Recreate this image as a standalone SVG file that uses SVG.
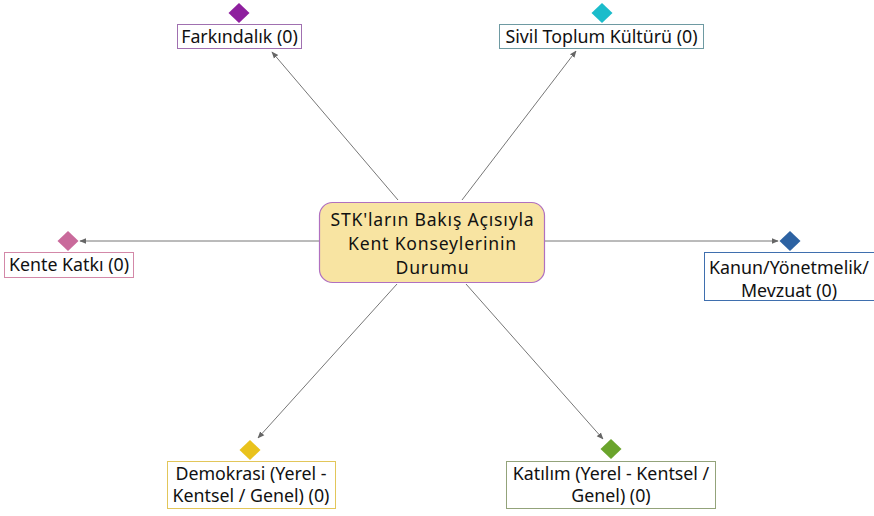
<svg xmlns="http://www.w3.org/2000/svg" width="874" height="516" viewBox="0 0 874 516">
<defs>
<marker id="arr" viewBox="0 0 10 10" refX="9" refY="5" markerWidth="7" markerHeight="7" orient="auto" markerUnits="userSpaceOnUse">
<path d="M0,1 L10,5 L0,9 z" fill="#666"/>
</marker>
</defs>
<style>
text{font-family:"Noto Sans","Open Sans","DejaVu Sans",sans-serif;fill:#111;text-anchor:middle}
.lbl{font-size:17.8px}
.main{font-size:17.6px;letter-spacing:0.8px}
.box{fill:#fff;stroke-width:1}
.con line{stroke:#777;stroke-width:1;marker-end:url(#arr)}
</style>
<rect width="874" height="516" fill="#fff"/>
<g class="con">
<line x1="398" y1="200" x2="272" y2="52"/>
<line x1="462" y1="200" x2="576" y2="51"/>
<line x1="319" y1="241" x2="80" y2="241"/>
<line x1="545" y1="241" x2="778" y2="241"/>
<line x1="397" y1="284" x2="258" y2="438"/>
<line x1="466" y1="284" x2="603" y2="439"/>
</g>
<g id="center">
<rect x="319.5" y="202.5" width="225" height="80" rx="13" fill="#f8e4a2" stroke="#b070c0" stroke-width="1.2"/>
<text class="main" x="432.5" y="226">STK'ların Bakış Açısıyla</text>
<text class="main" x="432.5" y="250">Kent Konseylerinin</text>
<text class="main" x="432.5" y="274">Durumu</text>
</g>
<g id="farkindalik">
<rect class="box" x="177.5" y="24.5" width="124" height="24" stroke="#a070b0"/>
<path d="M239,3 L249.5,13 L239,23 L228.5,13 z" fill="#8e1f9e"/>
<text class="lbl" x="239.5" y="43">Farkındalık (0)</text>
</g>
<g id="sivil">
<rect class="box" x="499.5" y="24.5" width="204" height="24" stroke="#6e9aa2"/>
<path d="M602,3 L612.5,13 L602,23 L591.5,13 z" fill="#1bbccb"/>
<text class="lbl" x="601.5" y="43">Sivil Toplum Kültürü (0)</text>
</g>
<g id="kente">
<rect class="box" x="4.5" y="252.5" width="129" height="25" stroke="#d388a8"/>
<path d="M68,231 L78.5,241 L68,251 L57.5,241 z" fill="#c96a9b"/>
<text class="lbl" x="69" y="271">Kente Katkı (0)</text>
</g>
<g id="kanun">
<rect class="box" x="704.5" y="252.5" width="172" height="48" stroke="#3f6fae"/>
<path d="M790,231 L800.5,241 L790,251 L779.5,241 z" fill="#2d62a2"/>
<text class="lbl" x="789" y="274">Kanun/Yönetmelik/</text>
<text class="lbl" x="789" y="297">Mevzuat (0)</text>
</g>
<g id="demokrasi">
<rect class="box" x="167.5" y="461.5" width="168" height="47" stroke="#e2c65a"/>
<path d="M250,440 L260.5,450 L250,460 L239.5,450 z" fill="#e9c21c"/>
<text class="lbl" x="251" y="480">Demokrasi (Yerel -</text>
<text class="lbl" x="251" y="502">Kentsel / Genel) (0)</text>
</g>
<g id="katilim">
<rect class="box" x="506.5" y="461.5" width="209" height="47" stroke="#93a37a"/>
<path d="M611,439 L621.5,449 L611,459 L600.5,449 z" fill="#6aa42c"/>
<text class="lbl" x="611" y="480">Katılım (Yerel - Kentsel /</text>
<text class="lbl" x="611" y="502">Genel) (0)</text>
</g>
</svg>
